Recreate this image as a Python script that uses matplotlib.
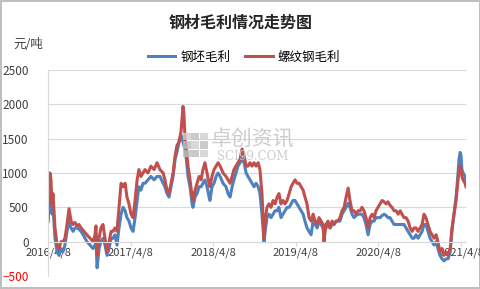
import numpy as np
import matplotlib
matplotlib.use("Agg")
import matplotlib.pyplot as plt
from matplotlib.patches import Rectangle

plt.rcParams['font.family'] = ['Noto Sans CJK SC', 'DejaVu Sans']

# days after 2016/4/8
day_offsets = [0, 4, 9, 13, 18, 22, 31, 40, 49, 57, 66, 75, 84, 93, 102, 111, 119, 128, 137, 146,
               159, 172, 186, 199, 208, 212, 217, 226, 234, 243, 252, 261, 270, 279, 287, 296, 305,
               314, 323, 332, 341, 349, 358, 367, 376, 385, 394, 402, 411, 420, 429, 442, 455, 469,
               482, 495, 509, 517, 526, 535, 544, 553, 562, 570, 579, 588, 593, 597, 601, 606, 610,
               619, 628, 637, 641, 650, 659, 668, 677, 685, 694, 703, 712, 716, 725, 734, 743, 752,
               761, 774, 787, 796, 805, 814, 822, 831, 840, 849, 858, 867, 876, 884, 893, 902, 911,
               920, 929, 937, 946, 955, 960, 968, 977, 986, 995, 1004, 1013, 1021, 1030, 1039, 1048,
               1057, 1066, 1075, 1083, 1092, 1101, 1110, 1119, 1128, 1136, 1145, 1154, 1163, 1172,
               1181, 1190, 1198, 1207, 1216, 1220, 1229, 1238, 1247, 1256, 1264, 1274, 1282, 1291,
               1300, 1309, 1318, 1327, 1335, 1344, 1353, 1362, 1371, 1380, 1388, 1397, 1406, 1415,
               1424, 1433, 1442, 1450, 1459, 1468, 1477, 1486, 1495, 1503, 1512, 1521, 1530, 1539,
               1548, 1557, 1565, 1574, 1583, 1592, 1601, 1610, 1618, 1627, 1636, 1645, 1654, 1662,
               1671, 1680, 1689, 1698, 1707, 1716, 1724, 1733, 1742, 1751, 1760, 1769, 1778, 1786,
               1795, 1804, 1813, 1817, 1822, 1826, 1830, 1835, 1844, 1848]

# 螺纹钢毛利
rebar = [300, 600, 1000, 900, 550, 700, 200, -50, -100, 0, 0, 50, 250, 480, 300, 250, 280, 230, 250, 200,
         150, 100, 50, 0, 100, 230, -200, 50, 200, 250, 50, -150, 0, 150, 150, 200, 150,
         500, 850, 800, 850, 650, 550, 400, 350, 600, 900, 1050, 950, 1000, 1050, 1000, 1100, 1050,
         1150, 1050, 1000, 900, 750, 700, 850, 1000, 1250, 1400, 1450, 1600, 1800, 1970, 1850, 1500, 1400,
         1100, 900, 650, 600, 750, 850, 950, 900, 1050, 1150, 1000, 850, 800, 950, 1050, 1100, 1150,
         1100, 1000, 950, 900, 850, 950, 1050, 1100, 1150, 1200, 1350, 1250, 1100, 1100, 1150, 1100, 1150,
         1100, 1150, 1050, 700, 50, 300, 500, 550, 500, 600, 550, 650, 700, 550, 600, 550,
         600, 700, 800, 850, 900, 850, 850, 800, 750, 650, 550, 350, 300, 400,
         300, 250, 350, 300, 250, 0, 250, 300, 200, 300, 250, 300, 300, 350,
         450, 500, 650, 780, 600, 450, 450, 400, 450, 450, 500, 450, 350, 200,
         350, 400, 350, 450, 500, 550, 600, 580, 550, 580, 530, 500, 450, 450,
         400, 450, 400, 350, 350, 300, 200, 150, 200, 200, 150, 200, 250, 400,
         350, 250, 150, 100, 50, 100, 0, -150, -100, -200, -150, -200, -100, 200,
         400, 600, 900, 1050, 1100, 1050, 950, 900, 850, 800]

# 钢坯毛利
billet = [300, 450, 600, 550, 400, 500, 50, -150, -200, -100, -150, -50, 150, 300, 200, 150, 200, 200, 180, 150,
          80, 0, -50, -100, -50, 50, -380, -100, 0, 50, -50, -200, -100, 50, 50, 100, -50,
          200, 400, 500, 450, 350, 300, 200, 150, 350, 600, 800, 750, 850, 850, 900, 950, 900,
          950, 950, 850, 800, 700, 650, 800, 950, 1200, 1300, 1450, 1550, 1500, 1450, 1400, 1350, 1250,
          950, 800, 550, 500, 650, 700, 800, 800, 850, 900, 800, 650, 600, 800, 850, 950, 1000,
          950, 850, 800, 700, 650, 800, 900, 1000, 1100, 1150, 1200, 1150, 1000, 950, 900, 850, 800,
          850, 800, 700, 400, 0, 150, 350, 400, 350, 400, 450, 450, 500, 350, 400, 450,
          500, 500, 550, 600, 600, 550, 500, 450, 400, 300, 200, 150, 100, 300,
          250, 200, 300, 250, 200, 150, 200, 250, 200, 250, 250, 300, 300, 300,
          400, 450, 500, 560, 500, 400, 350, 380, 400, 400, 400, 350, 250, 100,
          250, 300, 300, 350, 350, 350, 380, 400, 380, 350, 350, 300, 250, 250,
          250, 250, 250, 250, 200, 150, 100, 50, 50, 100, 50, 100, 150, 250,
          250, 150, 50, 0, -50, 0, -100, -200, -250, -280, -250, -250, -150, 150,
          400, 650, 1000, 1200, 1300, 1250, 1050, 1000, 950, 900]

tick_dates = ['2016-04-08', '2017-04-08', '2018-04-08', '2019-04-08', '2020-04-08', '2021-04-08']
tick_labels = ['2016/4/8', '2017/4/8', '2018/4/8', '2019/4/8', '2020/4/8', '2021/4/8']
y_ticks = [-500, 0, 500, 1000, 1500, 2000, 2500]

start = np.datetime64('2016-04-08')
dates = start + np.array(day_offsets).astype('timedelta64[D]')

fig = plt.figure(figsize=(4.81, 2.89), dpi=100)
fig.patch.set_edgecolor('#bfbfbf')
fig.patch.set_linewidth(1.5)
ax = fig.add_axes([48 / 481, 1 - 276 / 289, 418 / 481, 206 / 289])

ax.plot(dates, billet, color='#4F81BD', lw=2.2, label='钢坯毛利')
ax.plot(dates, rebar, color='#C0504D', lw=2.2, label='螺纹钢毛利')

ax.set_ylim(-500, 2500)
ax.set_xlim(start, start + np.timedelta64(1848, 'D'))
ax.set_yticks(y_ticks)
ax.set_xticks(np.array(tick_dates, dtype='datetime64[D]'))
ax.set_xticklabels(tick_labels)

ax.yaxis.grid(True, color='#d9d9d9', lw=0.8)
ax.set_axisbelow(True)
for s in ['top', 'right']:
    ax.spines[s].set_visible(False)
ax.spines['left'].set_color('#d9d9d9')
ax.spines['bottom'].set_color('#d9d9d9')
ax.spines['bottom'].set_position(('data', 0))
ax.tick_params(axis='y', length=0, pad=14, labelsize=8.5, labelcolor='#404040')
ax.tick_params(axis='x', length=3, color='#d9d9d9', pad=1, labelsize=8, labelcolor='#404040')
ax.get_yticklabels()[0].set_color('red')

# watermark
for i in range(3):
    for j in range(3):
        if (i, j) in [(0, 0), (1, 1), (2, 2), (0, 2)]:
            c = '#cfcfcf'
        else:
            c = '#bdbdbd'
        fig.patches.append(Rectangle(((183 + j * 8.5) / 481, 1 - (140 + i * 8.5) / 289), 7.5 / 481, 7.5 / 289,
                                     transform=fig.transFigure, facecolor=c, edgecolor='none', alpha=0.8))
fig.text(253 / 481, 1 - 140 / 289, '卓创资讯', fontsize=15, color='#c8c8c8', ha='center', va='center', alpha=0.9)
fig.text(253 / 481, 1 - 156 / 289, 'SCI99.COM', fontsize=8.5, color='#c8c8c8', ha='center', va='center',
         family='DejaVu Serif', alpha=0.9)

fig.text(241 / 481, 1 - 23 / 289, '钢材毛利情况走势图', fontsize=11.5, fontweight='bold', ha='center', va='center',
         color='#262626')
fig.text(13 / 481, 1 - 45 / 289, '元/吨', fontsize=9, ha='left', va='center', color='#404040')
fig.legend(loc='center', bbox_to_anchor=(244 / 481, 1 - 57 / 289), ncol=2, frameon=False, fontsize=9,
           handlelength=2.2, columnspacing=1.2, handletextpad=0.4)

fig.savefig('out.png', dpi=100)
